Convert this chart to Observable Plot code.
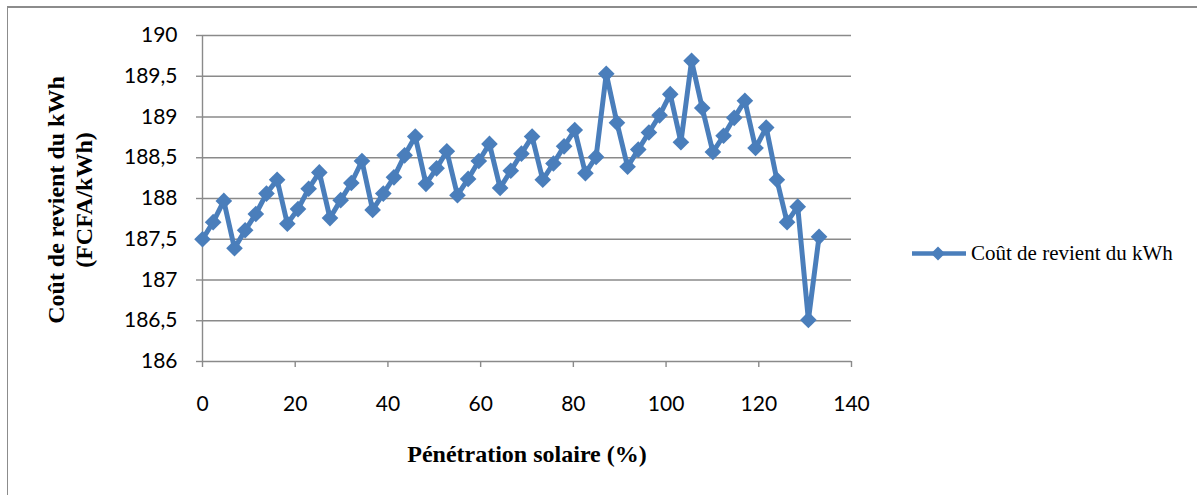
<!DOCTYPE html>
<html>
<head>
<meta charset="utf-8">
<script src="https://cdn.jsdelivr.net/npm/d3@7"></script>
<script src="https://cdn.jsdelivr.net/npm/@observablehq/plot@0.6"></script>
<style>
  html, body { margin: 0; padding: 0; background: #fff; }
  #wrap { position: relative; width: 1197px; height: 495px; overflow: hidden; background: #fff; }
  #frame { position: absolute; left: 7px; top: 6px; width: 1300px; height: 600px; border-left: 1.5px solid #8c8c8c; border-top: 2px solid #8c8c8c; }
  .serif { font-family: "Liberation Serif", "Times New Roman", serif; color: #000; }
  #ytitle { position: absolute; left: 70px; top: 200px; width: 320px; transform: translate(-50%, -50%) rotate(-90deg); text-align: center; font-weight: bold; font-size: 24px; line-height: 28px; white-space: nowrap; }
  #xtitle { position: absolute; left: 527px; top: 454px; transform: translate(-50%, -50%); font-weight: bold; font-size: 24px; white-space: nowrap; }
  #legend { position: absolute; left: 912px; top: 253px; transform: translateY(-50%); display: flex; align-items: center; font-size: 21px; white-space: nowrap; }
</style>
</head>
<body>
<div id="wrap">
  <div id="chart"></div>
  <div id="frame"></div>
  <div id="ytitle" class="serif">Coût de revient du kWh<br>(FCFA/kWh)</div>
  <div id="xtitle" class="serif">Pénétration solaire (%)</div>
  <div id="legend" class="serif"><svg width="56" height="20" style="margin-right:3px"><line x1="0" y1="10" x2="54" y2="10" stroke="#4a7ebb" stroke-width="4.5"/><path d="M26,3 L33,10 L26,17 L19,10 Z" fill="#4a7ebb"/></svg><span>Coût de revient du kWh</span></div>
</div>
<script>
const seriesName = "Coût de revient du kWh";
const penetration = [0, 2.3, 4.6, 6.9, 9.2, 11.5, 13.8, 16.1, 18.3, 20.6, 22.9, 25.2, 27.5, 29.8, 32.1, 34.4, 36.7, 39, 41.3, 43.6, 45.9, 48.2, 50.5, 52.7, 55, 57.3, 59.6, 61.9, 64.2, 66.5, 68.8, 71.1, 73.4, 75.7, 78, 80.3, 82.6, 84.9, 87.1, 89.4, 91.7, 94, 96.3, 98.6, 100.9, 103.2, 105.5, 107.8, 110.1, 112.4, 114.7, 117, 119.3, 121.6, 123.9, 126.1, 128.4, 130.7, 133];
const cost = [187.50, 187.71, 187.97, 187.39, 187.61, 187.81, 188.06, 188.23, 187.69, 187.87, 188.12, 188.32, 187.76, 187.98, 188.19, 188.46, 187.86, 188.06, 188.26, 188.53, 188.76, 188.18, 188.37, 188.58, 188.04, 188.24, 188.46, 188.67, 188.13, 188.34, 188.55, 188.76, 188.23, 188.43, 188.64, 188.84, 188.31, 188.51, 189.53, 188.93, 188.39, 188.60, 188.81, 189.02, 189.28, 188.69, 189.69, 189.11, 188.57, 188.77, 188.99, 189.20, 188.62, 188.87, 188.23, 187.71, 187.90, 186.51, 187.53];
const xTicks = [0, 20, 40, 60, 80, 100, 120, 140];
const yTicks = [186, 186.5, 187, 187.5, 188, 188.5, 189, 189.5, 190];

const data = penetration.map((x, i) => ({x, y: cost[i], series: seriesName}));
const blue = "#4a7ebb";
const grey = "#8a8a8a";

const chart = Plot.plot({
  width: 1197,
  height: 495,
  marginLeft: 202,
  marginRight: 346,
  marginTop: 35,
  marginBottom: 134,
  style: {fontFamily: "Lato, 'Open Sans', sans-serif", fontSize: "21px", color: "#000", background: "transparent"},
  x: {domain: [0, 140]},
  y: {domain: [186, 190]},
  marks: [
    Plot.ruleY(yTicks, {stroke: grey, strokeWidth: 1.4}),
    Plot.ruleX([0], {stroke: grey, strokeWidth: 1.4}),
    Plot.axisX({ticks: xTicks, tickSize: 6, tickPadding: 29, label: null, stroke: grey, strokeWidth: 1.4, fill: "#000"}),
    Plot.axisY({ticks: yTicks, tickSize: 6, tickPadding: 19, label: null, stroke: grey, strokeWidth: 1.4, fill: "#000",
      tickFormat: d => String(d).replace(".", ",")}),
    Plot.line(data, {x: "x", y: "y", stroke: blue, strokeWidth: 5, strokeLinejoin: "miter"}),
    Plot.dot(data, {x: "x", y: "y", symbol: "diamond2", r: 7.5, fill: blue, stroke: "none"})
  ]
});
document.getElementById("chart").appendChild(chart);
</script>
</body>
</html>
